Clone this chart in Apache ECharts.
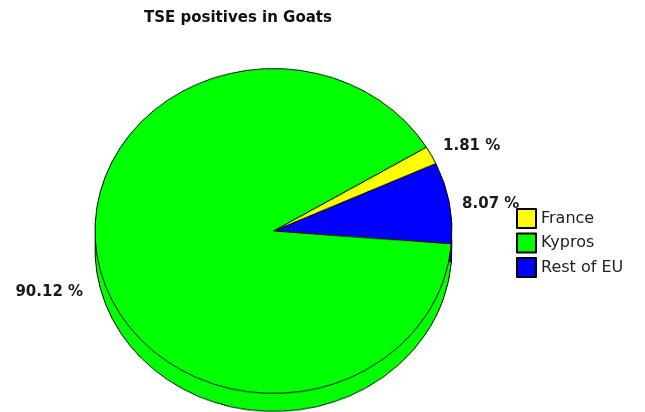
<!DOCTYPE html>
<html>
<head>
<meta charset="utf-8">
<script src="https://cdn.jsdelivr.net/npm/echarts@6/dist/echarts.min.js"></script>
<style>
  html, body { margin: 0; padding: 0; background: #fff; overflow: hidden; }
  #wrap { position: relative; width: 645px; height: 412px; overflow: hidden; }
  /* the disc is drawn round and squashed, so it looks tilted */
  #pie { position: absolute; left: 0; top: 0; width: 645px; height: 453px; transform: scaleY(0.91); transform-origin: 0 0; }
  #top { position: absolute; left: 0; top: 0; width: 645px; height: 412px; }
</style>
</head>
<body>
<div id="wrap"><div id="pie"></div><div id="top"></div></div>
<script>
// TSE positives in goats, share per country (%)
const countries = ['Rest of EU', 'France', 'Kypros']
const shares = [8.07, 1.81, 90.12]
const colors = ['#0000ff', '#ffff00', '#00ff00']
const legendOrder = ['France', 'Kypros', 'Rest of EU']

const SY = 0.91
const cx = 273.5, cy = 231, r = 178.5, depth = 18
const startAngle = 355.5

// nudges so the labels sit where the tilted disc puts them
const labelShift = [[-4, 6], [-4, 4], [0, 17]]

const pieData = countries.map((name, i) => ({ name, value: shares[i], itemStyle: { color: colors[i] } }))

// 1. disc + side
const pieChart = echarts.init(document.getElementById('pie'))
const sliceStyle = { borderColor: '#000', borderWidth: 1 }
pieChart.setOption({
  animation: false,
  series: [
    {
      type: 'pie',
      silent: true,
      center: [cx, (cy + depth) / SY],
      radius: r,
      startAngle: startAngle,
      clockwise: false,
      label: { show: false },
      labelLine: { show: false },
      itemStyle: sliceStyle,
      data: pieData
    },
    {
      type: 'pie',
      silent: true,
      center: [cx, cy / SY],
      radius: r,
      startAngle: startAngle,
      clockwise: false,
      label: { show: false },
      labelLine: { show: false },
      itemStyle: sliceStyle,
      data: pieData
    }
  ]
})

// 2. title, legend and percent labels
const topChart = echarts.init(document.getElementById('top'))
topChart.setOption({
  animation: false,
  title: {
    text: 'TSE positives in Goats',
    left: 139,
    top: 6,
    textStyle: { fontFamily: 'DejaVu Sans', fontSize: 15, fontWeight: 'bold', color: '#111' }
  },
  legend: {
    orient: 'vertical',
    left: 511,
    top: 203,
    icon: 'rect',
    itemWidth: 19,
    itemHeight: 19,
    itemGap: 3.5,
    itemTextGap: 6,
    textStyle: { fontFamily: 'DejaVu Sans', fontSize: 16, color: '#222', lineHeight: 19 },
    data: legendOrder.map(name => ({
      name,
      itemStyle: { color: colors[countries.indexOf(name)], opacity: 1, borderColor: '#000', borderWidth: 2 }
    }))
  },
  series: [
    {
      type: 'pie',
      silent: true,
      center: [cx, cy],
      radius: r,
      startAngle: startAngle,
      clockwise: false,
      avoidLabelOverlap: false,
      itemStyle: { color: 'rgba(0,0,0,0)', borderWidth: 0 },
      label: {
        show: true,
        position: 'outside',
        fontFamily: 'DejaVu Sans',
        fontSize: 15,
        fontWeight: 'bold',
        color: '#1a1a1a',
        formatter: p => p.value.toFixed(2) + ' %'
      },
      labelLine: { show: false, length: 12, length2: 0 },
      labelLayout: p => ({ dx: labelShift[p.dataIndex][0], dy: labelShift[p.dataIndex][1] }),
      data: countries.map((name, i) => ({ name, value: shares[i] }))
    }
  ]
})
</script>
</body>
</html>
